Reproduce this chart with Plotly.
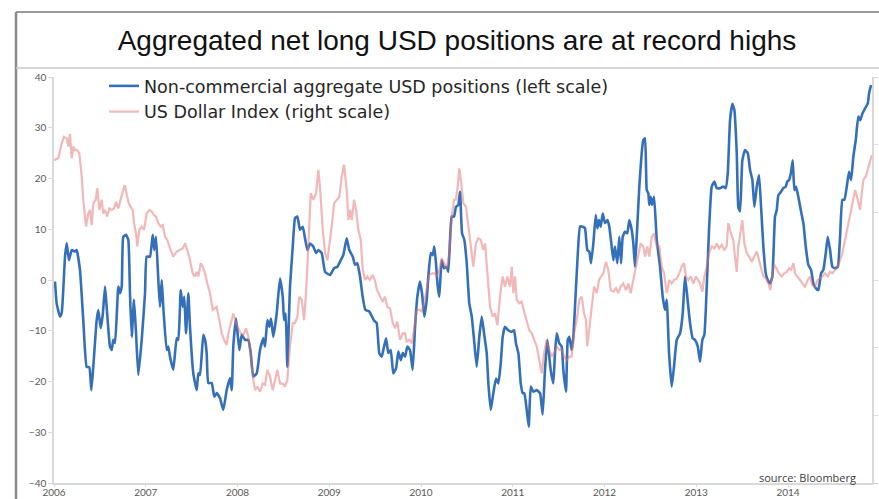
import plotly.graph_objects as go

# Non-commercial aggregate USD positions (left scale), sampled as decimal years
usd_pos_years = [
    2006.011, 2006.029, 2006.065, 2006.084, 2006.120, 2006.138, 2006.163, 2006.193, 2006.229, 2006.247,
    2006.283, 2006.319, 2006.356, 2006.385, 2006.407, 2006.428, 2006.465, 2006.483, 2006.509, 2006.531,
    2006.556, 2006.574, 2006.610, 2006.629, 2006.646, 2006.665, 2006.701, 2006.719, 2006.738, 2006.755,
    2006.785, 2006.810, 2006.828, 2006.847, 2006.872, 2006.894, 2006.919, 2006.956, 2006.992, 2007.010,
    2007.046, 2007.076, 2007.093, 2007.112, 2007.137, 2007.155, 2007.174, 2007.191, 2007.228, 2007.246,
    2007.264, 2007.300, 2007.337, 2007.355, 2007.381, 2007.403, 2007.420, 2007.439, 2007.464, 2007.482,
    2007.518, 2007.555, 2007.573, 2007.591, 2007.627, 2007.646, 2007.664, 2007.682, 2007.719, 2007.747,
    2007.773, 2007.809, 2007.845, 2007.882, 2007.918, 2007.937, 2007.954, 2007.984, 2008.020, 2008.046,
    2008.082, 2008.118, 2008.144, 2008.172, 2008.209, 2008.245, 2008.281, 2008.300, 2008.325, 2008.347,
    2008.365, 2008.390, 2008.427, 2008.463, 2008.493, 2008.507, 2008.525, 2008.543, 2008.572, 2008.602,
    2008.627, 2008.652, 2008.681, 2008.711, 2008.736, 2008.761, 2008.790, 2008.826, 2008.856, 2008.881,
    2008.918, 2008.954, 2009.008, 2009.052, 2009.088, 2009.125, 2009.153, 2009.190, 2009.218, 2009.256,
    2009.281, 2009.306, 2009.335, 2009.364, 2009.393, 2009.436, 2009.488, 2009.517, 2009.545, 2009.572,
    2009.589, 2009.619, 2009.644, 2009.670, 2009.698, 2009.728, 2009.753, 2009.779, 2009.801, 2009.826,
    2009.851, 2009.880, 2009.909, 2009.935, 2009.960, 2009.989, 2010.011, 2010.036, 2010.062, 2010.080,
    2010.106, 2010.127, 2010.145, 2010.163, 2010.182, 2010.199, 2010.225, 2010.251, 2010.280, 2010.297,
    2010.316, 2010.335, 2010.360, 2010.381, 2010.407, 2010.425, 2010.447, 2010.472, 2010.498, 2010.526,
    2010.553, 2010.578, 2010.607, 2010.635, 2010.662, 2010.687, 2010.716, 2010.734, 2010.760, 2010.788,
    2010.817, 2010.843, 2010.869, 2010.890, 2010.915, 2010.951, 2010.989, 2011.014, 2011.035, 2011.061,
    2011.087, 2011.108, 2011.126, 2011.152, 2011.174, 2011.196, 2011.224, 2011.261, 2011.297, 2011.326,
    2011.351, 2011.377, 2011.398, 2011.413, 2011.442, 2011.460, 2011.479, 2011.507, 2011.533, 2011.551,
    2011.580, 2011.599, 2011.616, 2011.642, 2011.660, 2011.678, 2011.703, 2011.733, 2011.762, 2011.787,
    2011.812, 2011.834, 2011.853, 2011.878, 2011.904, 2011.922, 2011.940, 2011.959, 2011.980, 2012.005,
    2012.031, 2012.052, 2012.078, 2012.096, 2012.114, 2012.139, 2012.161, 2012.180, 2012.198, 2012.223,
    2012.248, 2012.270, 2012.296, 2012.314, 2012.332, 2012.351, 2012.379, 2012.405, 2012.423, 2012.441,
    2012.460, 2012.477, 2012.488, 2012.503, 2012.518, 2012.540, 2012.569, 2012.605, 2012.634, 2012.659,
    2012.678, 2012.703, 2012.732, 2012.757, 2012.787, 2012.823, 2012.852, 2012.877, 2012.902, 2012.932,
    2012.961, 2012.986, 2013.016, 2013.041, 2013.066, 2013.088, 2013.114, 2013.139, 2013.168, 2013.197,
    2013.223, 2013.259, 2013.295, 2013.321, 2013.343, 2013.368, 2013.393, 2013.415, 2013.441, 2013.458,
    2013.477, 2013.502, 2013.531, 2013.561, 2013.586, 2013.611, 2013.633, 2013.659, 2013.684, 2013.706,
    2013.731, 2013.757, 2013.779, 2013.804, 2013.829, 2013.858, 2013.877, 2013.894, 2013.924, 2013.949,
    2013.975, 2013.992, 2014.011, 2014.033, 2014.051, 2014.069, 2014.087, 2014.112, 2014.142, 2014.167,
    2014.193, 2014.221, 2014.251, 2014.276, 2014.302, 2014.330, 2014.360, 2014.385, 2014.411, 2014.433,
    2014.458, 2014.483, 2014.512, 2014.542, 2014.567, 2014.592, 2014.614, 2014.640, 2014.665, 2014.687,
    2014.712, 2014.738, 2014.766, 2014.788, 2014.810, 2014.839, 2014.869, 2014.883, 2014.905,
]
usd_pos_values = [
    -0.3, -4.6, -7.2, -6.5, 4.6, 7.3, 3.9, 5.9, 5.6, 5.9,
    2.0, -7.9, -17.1, -17.2, -21.7, -17.1, -7.9, -5.9, -9.5, -6.9,
    -1.3, -5.3, -13.1, -13.8, -11.8, -12.4, -1.3, -2.6, -1.3, 8.5,
    8.9, 7.9, -2.6, -11.2, -3.9, -10.5, -18.7, -11.8, -2.6, 4.6,
    4.6, 8.9, 5.9, 8.5, 0.0, -5.3, 0.0, -5.3, -13.8, -13.1,
    -15.1, -17.7, -11.5, -11.8, -2.0, -5.3, -3.3, -10.5, -2.6, -9.2,
    -18.4, -21.7, -18.4, -18.7, -10.8, -11.8, -14.4, -20.3, -20.3, -23.0,
    -22.3, -23.3, -25.6, -21.7, -19.3, -21.7, -13.1, -7.6, -13.8, -10.8,
    -11.8, -11.8, -14.4, -19.0, -18.4, -13.8, -11.5, -13.1, -7.9, -9.2,
    -7.6, -11.2, -6.6, 0.3, -3.3, -7.9, -6.6, -17.1, -1.3, 6.6,
    12.2, 12.5, 9.9, 10.5, 8.2, 5.9, 7.2, 6.6, 5.3, 5.9,
    5.3, 1.6, 1.0, 2.3, 2.6, 3.9, 4.9, 8.2, 5.9, 4.6,
    3.0, 3.3, 0.7, -3.3, -5.9, -6.2, -8.0, -8.5, -14.4, -15.1,
    -13.8, -11.5, -14.4, -13.8, -18.4, -17.4, -14.1, -15.8, -14.4, -15.1,
    -13.1, -13.8, -17.7, -9.2, -3.3, -0.3, -2.6, -7.2, -3.9, 0.7,
    5.3, 4.9, 6.6, 3.3, -1.3, -3.3, 3.9, 2.3, 2.6, 1.6,
    7.9, 12.5, 12.5, 14.4, 14.8, 17.4, 9.2, 7.9, 3.3, -4.6,
    -7.2, -11.8, -17.1, -11.2, -7.2, -10.5, -14.4, -20.4, -25.6, -22.3,
    -19.4, -20.4, -16.4, -11.2, -9.2, -9.9, -10.2, -9.9, -12.5, -14.4,
    -20.4, -22.3, -22.3, -25.6, -28.9, -21.0, -22.0, -21.7, -22.3, -26.5,
    -17.7, -11.8, -15.1, -17.7, -20.4, -14.4, -10.5, -12.5, -13.1, -17.7,
    -22.0, -11.8, -11.2, -13.8, -11.2, -5.3, 3.3, 10.5, 10.5, 10.2,
    5.9, 5.6, 3.3, 7.2, 12.8, 10.2, 11.8, 10.5, 13.1, 11.2,
    11.8, 10.5, 6.6, 3.9, 6.6, 3.3, 8.5, 3.3, 8.5, 9.5,
    9.2, 11.8, 9.9, 7.2, 2.6, 8.5, 18.4, 25.0, 27.6, 27.9,
    17.7, 17.1, 14.8, 16.4, 14.8, 16.4, 7.9, 2.6, -3.3, -5.9,
    -3.9, -14.4, -21.0, -17.1, -11.8, -10.5, -6.6, 0.7, -3.3, -8.5,
    -11.5, -11.8, -13.1, -16.1, -11.8, -10.8, -1.3, 9.9, 18.4, 19.4,
    18.1, 18.1, 18.4, 18.1, 21.0, 31.5, 34.7, 33.5, 25.0, 14.4,
    13.5, 23.6, 25.6, 25.0, 21.7, 19.7, 14.4, 18.4, 20.7, 14.4,
    6.6, 1.3, 0.0, -0.7, 0.7, 12.5, 13.8, 16.7, 17.4, 18.1,
    18.4, 19.4, 19.7, 21.3, 23.6, 17.7, 18.4, 16.4, 13.5, 11.2,
    6.6, 3.0, 2.0, -0.7, -1.6, -2.0, 1.3, 2.0, 5.3, 8.5,
    5.9, 2.6, 2.3, 2.6, 8.5, 15.8, 15.8, 18.4, 21.3, 19.7,
    24.3, 27.6, 32.2, 31.5, 32.8, 33.8, 34.8, 36.8, 38.4,
]

# US Dollar Index (right scale), sampled as decimal years
dxy_years = [
    2006.000, 2006.047, 2006.084, 2006.109, 2006.138, 2006.156, 2006.174, 2006.193, 2006.210, 2006.229,
    2006.254, 2006.276, 2006.302, 2006.319, 2006.349, 2006.374, 2006.392, 2006.411, 2006.428, 2006.454,
    2006.472, 2006.494, 2006.520, 2006.537, 2006.556, 2006.581, 2006.603, 2006.629, 2006.654, 2006.676,
    2006.701, 2006.727, 2006.749, 2006.771, 2006.792, 2006.814, 2006.836, 2006.858, 2006.872, 2006.894,
    2006.908, 2006.930, 2006.956, 2006.981, 2007.010, 2007.039, 2007.065, 2007.090, 2007.112, 2007.137,
    2007.163, 2007.185, 2007.210, 2007.235, 2007.264, 2007.300, 2007.337, 2007.373, 2007.403, 2007.428,
    2007.453, 2007.482, 2007.512, 2007.537, 2007.555, 2007.573, 2007.599, 2007.621, 2007.646, 2007.671,
    2007.700, 2007.730, 2007.751, 2007.773, 2007.802, 2007.828, 2007.853, 2007.882, 2007.900, 2007.926,
    2007.954, 2007.984, 2008.009, 2008.035, 2008.063, 2008.093, 2008.118, 2008.144, 2008.166, 2008.191,
    2008.216, 2008.245, 2008.275, 2008.300, 2008.325, 2008.354, 2008.384, 2008.409, 2008.434, 2008.463,
    2008.493, 2008.518, 2008.543, 2008.572, 2008.602, 2008.627, 2008.652, 2008.674, 2008.700, 2008.725,
    2008.747, 2008.772, 2008.798, 2008.826, 2008.856, 2008.881, 2008.899, 2008.929, 2008.954, 2008.979,
    2009.001, 2009.027, 2009.052, 2009.081, 2009.110, 2009.136, 2009.161, 2009.190, 2009.208, 2009.226,
    2009.245, 2009.270, 2009.292, 2009.317, 2009.343, 2009.365, 2009.390, 2009.415, 2009.441, 2009.471,
    2009.496, 2009.521, 2009.553, 2009.582, 2009.608, 2009.633, 2009.662, 2009.692, 2009.717, 2009.742,
    2009.771, 2009.801, 2009.826, 2009.844, 2009.872, 2009.899, 2009.924, 2009.953, 2009.981, 2010.008,
    2010.033, 2010.062, 2010.090, 2010.120, 2010.145, 2010.171, 2010.199, 2010.225, 2010.251, 2010.280,
    2010.308, 2010.335, 2010.360, 2010.381, 2010.400, 2010.417, 2010.439, 2010.461, 2010.490, 2010.515,
    2010.542, 2010.570, 2010.599, 2010.624, 2010.651, 2010.679, 2010.698, 2010.723, 2010.752, 2010.781,
    2010.806, 2010.832, 2010.861, 2010.890, 2010.915, 2010.941, 2010.970, 2010.989, 2011.006, 2011.025,
    2011.043, 2011.071, 2011.097, 2011.123, 2011.152, 2011.180, 2011.207, 2011.232, 2011.261, 2011.289,
    2011.315, 2011.341, 2011.370, 2011.398, 2011.424, 2011.450, 2011.479, 2011.507, 2011.533, 2011.559,
    2011.588, 2011.616, 2011.642, 2011.668, 2011.697, 2011.725, 2011.751, 2011.777, 2011.798, 2011.812,
    2011.834, 2011.860, 2011.886, 2011.915, 2011.940, 2011.962, 2011.987, 2012.016, 2012.041, 2012.067,
    2012.096, 2012.125, 2012.150, 2012.176, 2012.205, 2012.234, 2012.259, 2012.285, 2012.314, 2012.343,
    2012.368, 2012.394, 2012.423, 2012.441, 2012.466, 2012.488, 2012.514, 2012.540, 2012.569, 2012.597,
    2012.623, 2012.649, 2012.678, 2012.706, 2012.732, 2012.757, 2012.787, 2012.815, 2012.841, 2012.866,
    2012.888, 2012.913, 2012.939, 2012.968, 2012.997, 2013.016, 2013.041, 2013.066, 2013.088, 2013.114,
    2013.139, 2013.168, 2013.197, 2013.223, 2013.248, 2013.277, 2013.305, 2013.331, 2013.349, 2013.378,
    2013.403, 2013.422, 2013.441, 2013.458, 2013.488, 2013.502, 2013.524, 2013.550, 2013.575, 2013.604,
    2013.633, 2013.659, 2013.684, 2013.706, 2013.731, 2013.757, 2013.786, 2013.808, 2013.829, 2013.851,
    2013.877, 2013.902, 2013.931, 2013.960, 2013.985, 2014.011, 2014.033, 2014.058, 2014.076, 2014.106,
    2014.131, 2014.156, 2014.185, 2014.215, 2014.240, 2014.265, 2014.294, 2014.324, 2014.349, 2014.374,
    2014.403, 2014.433, 2014.458, 2014.483, 2014.512, 2014.542, 2014.567, 2014.592, 2014.621, 2014.651,
    2014.676, 2014.701, 2014.731, 2014.760, 2014.785, 2014.804, 2014.821, 2014.847, 2014.869, 2014.891,
    2014.913,
]
dxy_values = [
    88.85, 89.00, 90.09, 90.58, 90.46, 89.86, 90.80, 89.00, 89.86, 89.60,
    89.60, 89.38, 87.65, 85.93, 83.94, 84.91, 85.18, 84.05, 85.66, 85.93,
    86.79, 85.18, 85.93, 84.91, 85.18, 84.69, 85.29, 85.18, 85.29, 85.78,
    85.29, 86.04, 86.53, 87.01, 86.26, 85.66, 85.40, 85.18, 84.20, 83.45,
    82.48, 83.71, 83.94, 83.71, 84.91, 85.18, 85.06, 84.80, 84.69, 84.20,
    83.94, 84.05, 83.19, 82.96, 82.33, 81.73, 82.10, 82.21, 82.33, 82.70,
    82.21, 81.46, 80.49, 80.26, 80.60, 80.26, 81.24, 80.98, 80.49, 79.74,
    79.03, 77.79, 77.90, 78.01, 77.04, 76.06, 75.58, 75.20, 76.06, 76.81,
    77.53, 76.81, 76.44, 76.06, 75.95, 76.44, 75.80, 74.60, 72.88, 71.86,
    72.13, 71.75, 72.35, 72.24, 73.36, 72.88, 71.86, 72.61, 73.36, 72.35,
    72.35, 72.13, 72.61, 75.09, 76.81, 76.81, 77.30, 78.76, 78.54, 77.04,
    79.03, 82.48, 86.41, 85.93, 86.41, 88.14, 86.90, 83.71, 81.99, 81.46,
    82.48, 83.94, 85.66, 85.93, 86.15, 87.65, 88.51, 86.64, 84.43, 85.18,
    84.43, 85.93, 85.18, 83.71, 82.96, 80.75, 80.00, 80.26, 80.00, 80.38,
    80.00, 79.25, 78.76, 78.39, 78.76, 78.01, 77.90, 76.81, 76.44, 76.93,
    75.58, 76.06, 76.06, 75.46, 75.58, 75.31, 76.29, 77.79, 77.79, 77.68,
    78.28, 79.25, 80.38, 80.49, 80.49, 80.26, 80.75, 81.61, 81.24, 80.86,
    81.99, 84.69, 85.93, 85.93, 86.90, 88.25, 87.16, 85.66, 85.40, 83.94,
    82.48, 80.98, 82.70, 83.08, 82.96, 82.21, 82.70, 80.26, 78.01, 77.30,
    77.53, 76.66, 78.76, 80.26, 79.51, 80.26, 79.51, 80.98, 79.03, 80.26,
    78.54, 78.28, 78.39, 77.68, 77.04, 76.29, 76.06, 75.58, 75.09, 74.08,
    73.10, 74.60, 75.58, 74.83, 74.34, 74.60, 75.09, 74.83, 74.83, 74.34,
    74.08, 74.34, 74.34, 76.06, 77.04, 78.54, 78.76, 77.53, 77.04, 75.09,
    76.55, 77.79, 79.51, 79.03, 80.00, 80.26, 80.49, 81.35, 80.75, 79.25,
    79.14, 79.40, 79.03, 79.51, 79.74, 79.25, 79.74, 79.03, 80.00, 80.98,
    81.99, 82.70, 82.48, 81.73, 82.48, 81.73, 83.19, 83.45, 82.48, 82.48,
    80.98, 80.49, 79.03, 80.00, 79.74, 80.00, 80.11, 80.49, 80.98, 81.24,
    80.26, 80.00, 80.26, 79.74, 80.26, 80.00, 79.74, 79.14, 80.26, 80.98,
    81.99, 82.48, 82.33, 82.70, 82.33, 82.59, 82.21, 82.48, 84.20, 83.45,
    82.96, 81.73, 80.60, 82.48, 83.71, 84.43, 82.70, 81.99, 81.73, 81.35,
    81.73, 82.10, 81.46, 80.98, 80.26, 80.11, 79.74, 79.25, 80.49, 81.13,
    80.75, 80.49, 80.26, 80.49, 80.60, 80.86, 80.75, 81.24, 80.49, 80.26,
    80.00, 79.74, 79.51, 80.00, 80.26, 79.63, 79.51, 80.00, 80.11, 80.26,
    80.49, 80.26, 80.60, 80.49, 80.75, 80.98, 81.46, 81.99, 82.96, 83.94,
    84.69, 85.40, 86.64, 85.93, 85.18, 86.41, 87.39, 87.65, 88.14, 88.63,
    89.23,
]

year_ticks = [2006, 2007, 2008, 2009, 2010, 2011, 2012, 2013, 2014]
left_ticks = [-40, -30, -20, -10, 0, 10, 20, 30, 40]
right_ticks = [65, 70, 75, 80, 85, 90, 95]

BLUE = "#3470ba"
PINK = "rgba(230,112,112,0.5)"
AXIS = "#d9d9d9"
TICK_TEXT = "#595959"
LEGEND_FONT = "'DejaVu Sans', 'Open Sans', sans-serif"
BODY_FONT = "'Open Sans', Lato, sans-serif"
TICK_FONT = "Lato, 'Open Sans', sans-serif"

fig = go.Figure()

fig.add_trace(go.Scatter(
    x=usd_pos_years, y=usd_pos_values, mode="lines",
    name="Non-commercial aggregate USD positions (left scale)",
    line=dict(color=BLUE, width=2.6, shape="spline", smoothing=0.4),
    yaxis="y",
))
fig.add_trace(go.Scatter(
    x=dxy_years, y=dxy_values, mode="lines",
    name="US Dollar Index (right scale)",
    line=dict(color=PINK, width=2.2),
    yaxis="y2",
))

W, H = 879, 499
L, R, T, B = 54, 7, 77, 16
plot_w, plot_h = W - L - R, H - T - B


def px_x(p):
    return (p - L) / plot_w


def px_y(p):
    return (H - B - p) / plot_h


fig.update_layout(
    width=W, height=H,
    margin=dict(l=L, r=R, t=T, b=B, autoexpand=False),
    paper_bgcolor="white", plot_bgcolor="white",
    showlegend=True,
    legend=dict(
        x=px_x(104), y=px_y(68), xanchor="left", yanchor="top",
        bgcolor="rgba(0,0,0,0)",
        font=dict(family=LEGEND_FONT, size=17.5, color="#262626"),
        tracegroupgap=0, itemwidth=30,
    ),
    title=dict(
        text="Aggregated net long USD positions are at record highs",
        x=457 / W, xanchor="center", xref="container",
        y=1 - 40 / H, yanchor="middle", yref="container",
        font=dict(family="'Liberation Sans Narrow', 'Arial Narrow', 'Liberation Sans', sans-serif",
                  size=28, color="#111111"),
    ),
    xaxis=dict(
        range=[2006, 2014.915], tickvals=year_ticks, ticktext=[str(y) for y in year_ticks],
        showgrid=False, zeroline=False, showline=True, linecolor=AXIS, linewidth=1.5,
        ticks="outside", ticklen=2, tickcolor=AXIS, automargin=False,
        ticklabelstandoff=-3,
        tickfont=dict(family=TICK_FONT, size=10, color=TICK_TEXT),
    ),
    yaxis=dict(
        range=[-40, 40], tickvals=left_ticks, automargin=False,
        showgrid=False, zeroline=False, showline=True, linecolor=AXIS, linewidth=1.5,
        ticks="outside", ticklen=4, tickcolor=AXIS,
        tickfont=dict(family=TICK_FONT, size=10, color=TICK_TEXT),
    ),
    yaxis2=dict(
        range=[65, 95], tickvals=right_ticks, overlaying="y", side="right", automargin=False,
        showgrid=False, zeroline=False, showline=True, linecolor=AXIS, linewidth=1.5,
        ticks="outside", ticklen=4, tickcolor=AXIS, showticklabels=False,
    ),
    shapes=[
        # outer frame of the slide panel
        dict(type="line", xref="paper", yref="paper",
             x0=px_x(16), x1=px_x(900), y0=px_y(12), y1=px_y(12),
             line=dict(color="#9a9a9a", width=2)),
        dict(type="line", xref="paper", yref="paper",
             x0=px_x(16), x1=px_x(16), y0=px_y(12), y1=px_y(520),
             line=dict(color="#8c8c8c", width=2.5)),
        # rule under the heading
        dict(type="line", xref="paper", yref="paper",
             x0=px_x(16), x1=px_x(900), y0=px_y(68), y1=px_y(68),
             line=dict(color="#c8c8c8", width=1.5)),
    ],
    annotations=[
        dict(text="source: Bloomberg", xref="paper", yref="paper",
             x=px_x(858), y=px_y(477), xanchor="right", yanchor="middle",
             showarrow=False, font=dict(family=BODY_FONT, size=11, color="#404040")),
    ],
)

fig.write_html("out.html")
